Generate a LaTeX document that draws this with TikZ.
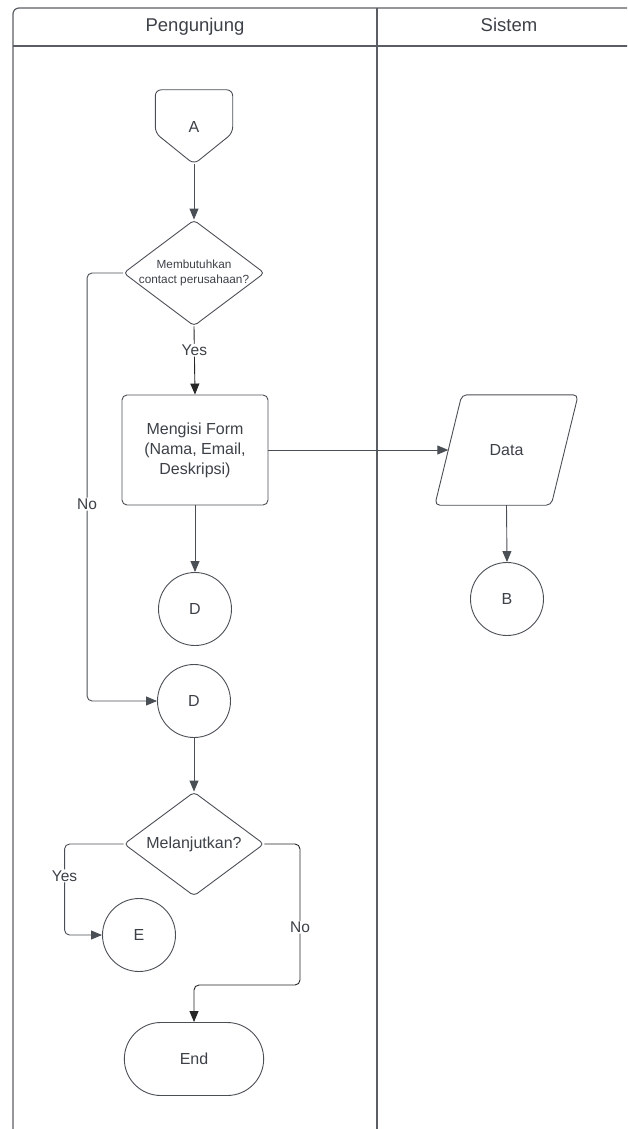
\documentclass[tikz,border=0pt]{standalone}
\usepackage{fontspec}
\setmainfont{Liberation Sans}
\usetikzlibrary{shapes.geometric,shapes.misc,arrows.meta,calc}
\definecolor{ln}{HTML}{4A4E55}
\definecolor{tx}{HTML}{3C4047}
\definecolor{fr}{HTML}{5A5E64}
\begin{document}
\begin{tikzpicture}[x=1pt,y=-1pt,
  every node/.style={font=\fontsize{16}{20}\selectfont, text=tx},
  shp/.style={draw=ln, line width=0.9pt},
  con/.style={draw=ln, line width=0.9pt, -{Triangle[length=11pt,width=9pt]}, rounded corners=5pt},
  dark/.style={draw=black!85},
  lbl/.style={fill=white, inner sep=1pt, font=\fontsize{15.5}{18}\selectfont},
  hdr/.style={anchor=base, font=\fontsize{18.5}{22}\selectfont},
  frame/.style={draw=fr, line width=1.2pt}]
\useasboundingbox (0,0) rectangle (627,1129);
\clip (0,0) rectangle (627,1129);
% swimlane frame
\draw[frame, rounded corners=6pt] (13,1140) -- (13,8) -- (640,8);
\draw[frame] (13,46) -- (640,46);
\draw[frame] (377,8) -- (377,1140);
\node[hdr] (h1) at (195,32) {Pengunjung};
\node[hdr] (h2) at (509,32) {Sistem};
% off-page connector A
\node[minimum width=77pt, minimum height=74pt, inner sep=0] (A) at (194,127) {A};
\draw[shp, rounded corners=6pt] (A.north west) -- (A.north east) -- ([yshift=-6pt]A.east) -- (A.south) -- ([yshift=-6pt]A.west) -- cycle;
% decision 1
\node[shp, diamond, rounded corners=4pt, minimum width=141pt, minimum height=106pt, inner sep=0, aspect=1.33,
  label={[font=\fontsize{11.8}{15}\selectfont, align=center]center:Membutuhkan\\contact perusahaan?}] (q1) at (194,273) {};
% process
\node[shp, rectangle, rounded corners=5pt, minimum width=146pt, minimum height=110pt, align=center] (form) at (195,450) {Mengisi Form\\(Nama, Email,\\Deskripsi)};
% data
\node[minimum width=143pt, minimum height=110pt, inner sep=0] (data) at (506.5,450) {Data};
\draw[shp, rounded corners=5pt] ([xshift=27pt]data.north west) -- (data.north east) -- ([xshift=-27pt]data.south east) -- (data.south west) -- cycle;
% connectors (circles)
\node[shp, circle, minimum size=73pt, inner sep=0] (d1) at (195,609) {D};
\node[shp, circle, minimum size=73pt, inner sep=0] (b) at (507,599) {B};
\node[shp, circle, minimum size=73pt, inner sep=0] (d2) at (194,701) {D};
% decision 2
\node[shp, diamond, rounded corners=4pt, minimum width=140pt, minimum height=104pt, inner sep=0, aspect=1.35,
  label={center:Melanjutkan?}] (q2) at (194,844) {};
\node[shp, circle, minimum size=73pt, inner sep=0] (e) at (139,935) {E};
% terminator
\node[shp, rounded rectangle, minimum width=146pt, minimum height=73pt] (end) at (194,1059) {End};
% edges
\coordinate (c1) at (300,844);
\coordinate (c2) at (300,985);
\draw[con] (A.south) -- (q1.north);
\draw[con, dark] (q1.south) -- node[lbl, pos=0.35] {Yes} (form.north);
\draw[con] (form.east) -- ([xshift=13.5pt]data.west);
\draw[con] (form.south) -- (d1.north);
\draw[con] (data.south) -- (b.north);
\draw[con] (q1.west) -- ++(-36,0) |- node[lbl, pos=0.27] {No} (d2.west);
\draw[con] (d2.south) -- (q2.north);
\draw[con] (q2.west) -- ++(-59,0) |- node[lbl, pos=0.175] {Yes} (e.west);
\draw[con, dark] (q2.east) -- (c1) -- node[lbl, pos=0.59] {No} (c2) -| (end.north);
\end{tikzpicture}
\end{document}
